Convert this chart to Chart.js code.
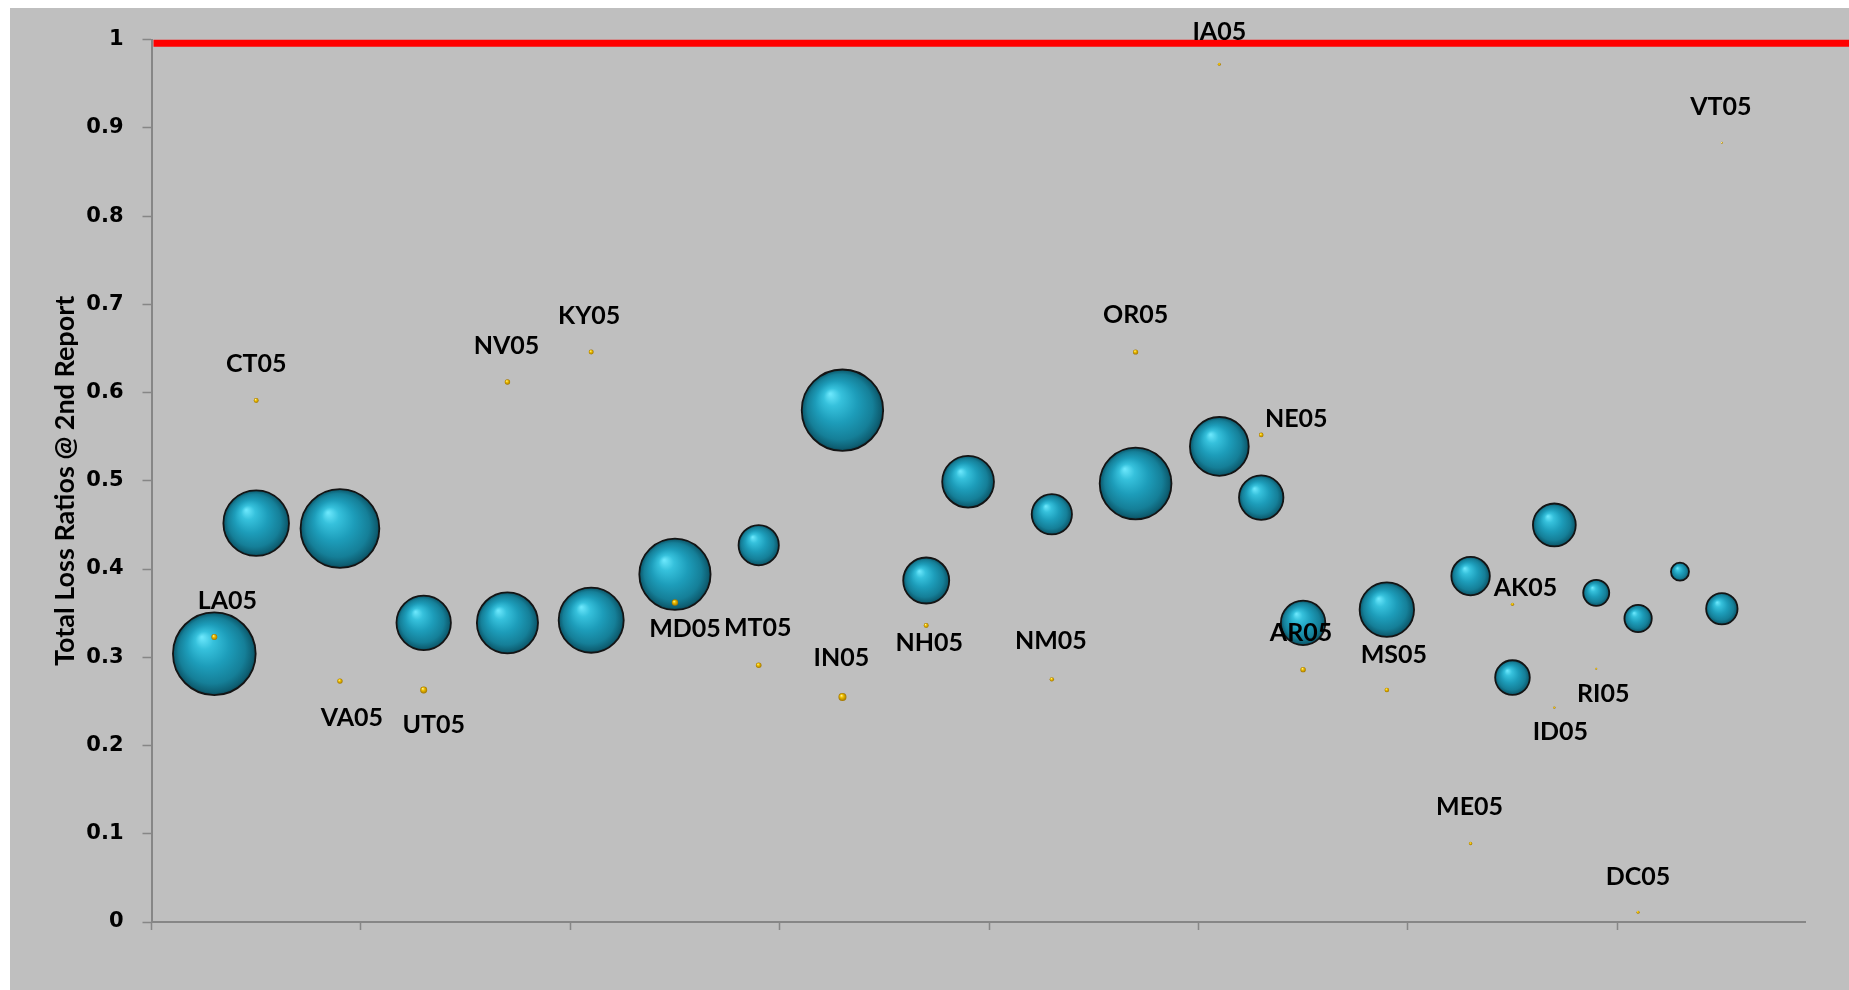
<!DOCTYPE html>
<html>
<head>
<meta charset="utf-8">
<script src="https://cdn.jsdelivr.net/npm/chart.js@4.4.0/dist/chart.umd.min.js"></script>
<style>
    html, body { margin: 0; padding: 0; background: #fff; overflow: hidden; }
    #wrap { position: absolute; left: 10px; top: 8px; width: 1839px; height: 982px; background: #bfbfbf; }
</style>
</head>
<body>
<div id="wrap"><canvas id="Chart_1"></canvas></div>
<script>
// state codes, '' where the picture shows no label
var states = ['LA05', 'CT05', 'VA05', 'UT05', 'NV05', 'KY05', 'MD05', 'MT05', 'IN05', 'NH05', '', 'NM05',
              'OR05', 'IA05', 'NE05', 'AR05', 'MS05', 'ME05', 'AK05', 'ID05', 'RI05', 'DC05', '', 'VT05'];
var xPos = [1.5, 2.5, 4.5, 6.5, 8.5, 10.5, 12.5, 14.5, 16.5, 18.5, 19.5, 21.5,
            23.5, 25.5, 26.5, 27.5, 29.5, 31.5, 32.5, 33.5, 34.5, 35.5, 36.5, 37.5];

// big blue bubbles
var bubbleRatio = [0.304, 0.452, 0.446, 0.339, 0.339, 0.342, 0.394, 0.427, 0.580, 0.387, 0.499, 0.462,
                   0.497, 0.539, 0.481, 0.339, 0.354, 0.392, 0.277, 0.450, 0.373, 0.344, 0.397, 0.355];
var bubbleSize = [97, 61, 88, 42, 53, 60, 72, 23, 94, 30, 38, 23,
                  73, 49, 28, 28, 42, 21, 17, 26, 9.6, 10.6, 4.6, 14];

// small yellow bubbles (the labelled series)
var dotRatio = [0.323, 0.591, 0.273, 0.263, 0.612, 0.646, 0.362, 0.291, 0.255, 0.336, null, 0.275,
                0.646, 0.972, 0.552, 0.286, 0.263, 0.089, 0.360, 0.243, 0.287, 0.011, null, 0.883];
var dotSize = [0.51, 0.35, 0.41, 0.69, 0.41, 0.35, 0.58, 0.44, 0.9, 0.35, null, 0.27,
               0.38, 0.13, 0.3, 0.41, 0.3, 0.16, 0.15, 0.08, 0.06, 0.13, null, 0.06];

var yTicks = [0, 0.1, 0.2, 0.3, 0.4, 0.5, 0.6, 0.7, 0.8, 0.9, 1];
var xTicks = [0, 5, 10, 15, 20, 25, 30, 35];
var targetRatio = 0.996;

// where each data label sits relative to its yellow point (px)
var labelOffsets = [[13, -37], [0, -38], [12, 36], [10, 34], [-1, -37], [-2, -37], [10, 25], [-1, -38],
                    [-1, -40], [3, 16], null, [-1, -39], [0, -38], [0, -33], [35, -17], [-2, -38],
                    [7, -36], [-1, -37], [13, -17], [6, 23], [7, 24], [0, -36], null, [-1, -37]];

var R_SCALE = 4.2;

var bubbleData = [];
var dotData = [];
for (var i = 0; i < xPos.length; i++) {
    bubbleData.push({x: xPos[i], y: bubbleRatio[i], r: R_SCALE * Math.sqrt(bubbleSize[i])});
    if (dotRatio[i] != null) {
        dotData.push({x: xPos[i], y: dotRatio[i], r: R_SCALE * Math.sqrt(dotSize[i]), name: states[i], off: labelOffsets[i]});
    }
}

function sphere(stops, flat) {
    return function (c) {
        var chart = c.chart;
        if (c.type !== 'data' || !chart.chartArea) return flat;
        var x = chart.scales.x.getPixelForValue(c.raw.x);
        var y = chart.scales.y.getPixelForValue(c.raw.y);
        var r = Math.max(c.raw.r, 0.5);
        var g = chart.ctx.createRadialGradient(x - r * 0.3, y - r * 0.4, r * 0.02, x, y, r);
        stops.forEach(function (s) { g.addColorStop(s[0], s[1]); });
        return g;
    };
}

var blueStops = [[0, '#6ae6fb'], [0.2, '#36c1dc'], [0.5, '#1d9dba'], [0.8, '#157f98'], [0.95, '#0e5f73'], [1, '#0a4656']];
var goldStops = [[0, '#fff3a0'], [0.4, '#f0c000'], [1, '#a07400']];

var overlay = {
    id: 'overlay',
    afterDatasetsDraw: function (chart) {
        var ctx = chart.ctx;
        var ry = chart.scales.y.getPixelForValue(targetRatio);
        ctx.save();
        ctx.strokeStyle = '#ff0000';
        ctx.lineWidth = 7;
        ctx.beginPath();
        ctx.moveTo(chart.chartArea.left + 2, ry);
        ctx.lineTo(chart.width, ry);
        ctx.stroke();

        ctx.font = 'bold 25px Lato';
        ctx.fillStyle = '#000';
        ctx.textAlign = 'center';
        ctx.textBaseline = 'alphabetic';
        chart.getDatasetMeta(0).data.forEach(function (pt, i) {
            var d = dotData[i];
            ctx.fillText(d.name, pt.x + d.off[0], pt.y + d.off[1] + 9);
        });
        ctx.restore();
    }
};

function draw() {
    var ctx = document.getElementById('Chart_1');
    new Chart(ctx, {
        type: 'bubble',
        data: {
            datasets: [{
                label: 'Label',
                data: dotData,
                order: 0,
                backgroundColor: sphere(goldStops, '#f0c000'),
                borderWidth: 0
            }, {
                label: 'Premium',
                data: bubbleData,
                order: 1,
                backgroundColor: sphere(blueStops, '#1d9dba'),
                borderColor: '#141414',
                borderWidth: 1.8
            }]
        },
        options: {
            responsive: true,
            maintainAspectRatio: false,
            animation: false,
            events: [],
            layout: { padding: { top: 29, right: 43.4, left: 0, bottom: 0 }, autoPadding: false },
            plugins: { legend: { display: false }, tooltip: { enabled: false } },
            scales: {
                x: {
                    type: 'linear',
                    min: 0,
                    max: 39.5,
                    afterBuildTicks: function (s) { s.ticks = xTicks.map(function (v) { return {value: v}; }); },
                    afterFit: function (s) { s.height = 68; },
                    ticks: { display: false },
                    grid: { drawOnChartArea: false, tickLength: 8, tickWidth: 1.5, tickColor: '#868686' },
                    border: { color: '#868686', width: 2 }
                },
                y: {
                    type: 'linear',
                    min: 0,
                    max: 1,
                    afterBuildTicks: function (s) { s.ticks = yTicks.map(function (v) { return {value: v}; }); },
                    afterFit: function (s) { s.width = 141.5; },
                    ticks: {
                        color: '#000',
                        padding: 19,
                        font: { family: 'DejaVu Sans', weight: 'bold', size: 21 },
                        callback: function (v) { return String(Math.round(v * 10) / 10); }
                    },
                    grid: { drawOnChartArea: false, tickLength: 9, tickWidth: 1.5, tickColor: '#868686' },
                    border: { color: '#868686', width: 2 },
                    title: {
                        display: true,
                        text: 'Total Loss Ratios @ 2nd Report',
                        color: '#000',
                        padding: { top: 39, bottom: 0 },
                        font: { family: 'Lato', weight: 'bold', size: 27 }
                    }
                }
            }
        },
        plugins: [overlay]
    });
}

Promise.all([
    document.fonts.load('bold 25px Lato'),
    document.fonts.load('bold 21px "DejaVu Sans"')
]).then(draw, draw);
</script>
</body>
</html>
